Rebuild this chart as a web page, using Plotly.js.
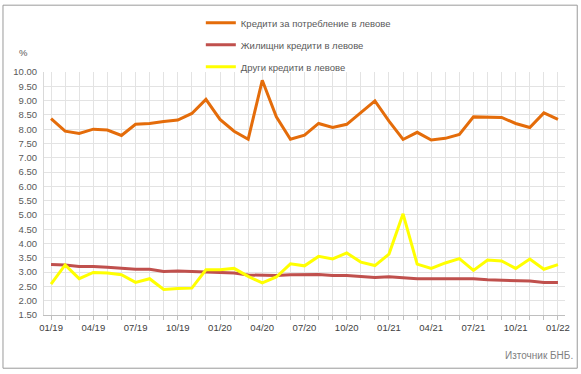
<!DOCTYPE html>
<html>
<head>
<meta charset="utf-8">
<script src="https://cdn.plot.ly/plotly-3.0.1.min.js"></script>
<style>
html,body{margin:0;padding:0;background:#fff;}
#chart{width:581px;height:374px;}
</style>
</head>
<body>
<div id="chart"></div>
<script>
const months = ["01/19","02/19","03/19","04/19","05/19","06/19","07/19","08/19","09/19","10/19","11/19","12/19",
"01/20","02/20","03/20","04/20","05/20","06/20","07/20","08/20","09/20","10/20","11/20","12/20",
"01/21","02/21","03/21","04/21","05/21","06/21","07/21","08/21","09/21","10/21","11/21","12/21","01/22"];
const consumer = [8.37,7.93,7.85,8.00,7.97,7.78,8.17,8.20,8.27,8.32,8.55,9.04,
8.34,7.93,7.65,9.71,8.43,7.65,7.79,8.20,8.06,8.17,8.58,8.99,
8.28,7.64,7.89,7.62,7.68,7.82,8.43,8.41,8.41,8.20,8.06,8.57,8.34];
const housing = [3.27,3.25,3.20,3.20,3.17,3.13,3.10,3.10,3.02,3.04,3.02,3.00,
2.99,2.97,2.90,2.88,2.88,2.91,2.92,2.92,2.88,2.88,2.85,2.81,
2.84,2.81,2.77,2.77,2.77,2.77,2.77,2.73,2.71,2.71,2.69,2.64,2.64];
const other = [2.58,3.25,2.77,2.99,2.97,2.91,2.64,2.77,2.39,2.43,2.44,3.08,
3.08,3.13,2.85,2.62,2.83,3.29,3.22,3.55,3.46,3.67,3.35,3.23,
3.63,5.04,3.28,3.13,3.32,3.47,3.06,3.42,3.39,3.13,3.46,3.10,3.26];
const seriesNames = ["Кредити за потребление в левове","Жилищни кредити в левове","Други кредити в левове"];
const yTicks = [1.5,2,2.5,3,3.5,4,4.5,5,5.5,6,6.5,7,7.5,8,8.5,9,9.5,10];

const xIdx = months.map((m,i)=>i);
const tickText = months.map((m,i)=> i%3===0 ? m : "");
const font = "Liberation Sans, Arial, sans-serif";

const traces = [
  {x:xIdx, y:consumer, name:seriesNames[0], legendgroup:"a", mode:"lines", line:{color:"#E46C0A", width:3}},
  {x:xIdx, y:housing, name:seriesNames[1], legendgroup:"b", mode:"lines", line:{color:"#C0504D", width:3}},
  {x:xIdx, y:other, name:seriesNames[2], legendgroup:"c", mode:"lines", line:{color:"#FFFF00", width:3}}
];

const layout = {
  width:581, height:374,
  margin:{l:44, r:16, t:72, b:58.5, autoexpand:false},
  paper_bgcolor:"#fff", plot_bgcolor:"#fff",
  font:{family:font, size:9, color:"#595959"},
  showlegend:true,
  legend:{x:0.301, y:1.262, xanchor:"left", yanchor:"top",
    tracegroupgap:3, font:{size:9.5, color:"#595959"}, bgcolor:"rgba(0,0,0,0)"},
  xaxis:{range:[-0.5,36.5], tickvals:xIdx, ticktext:tickText, showgrid:true, gridcolor:"#e3e3e3", gridwidth:1,
    zeroline:false, showline:true, linecolor:"#bfbfbf", linewidth:1, ticks:"outside", ticklen:4, tickcolor:"#bfbfbf",
    tickangle:0, tickfont:{size:9.5, color:"#404040"}, automargin:false, fixedrange:true},
  yaxis:{range:[1.5,10], tickvals:yTicks, tickformat:".2f", showgrid:true, gridcolor:"#e3e3e3", gridwidth:1,
    zeroline:false, showline:true, linecolor:"#d9d9d9", ticks:"", ticklabelstandoff:4,
    tickfont:{size:9.5, color:"#595959"}, automargin:false, fixedrange:true},
  annotations:[
    {xref:"paper", yref:"paper", x:-0.04, y:1.05, text:"%", showarrow:false, xanchor:"center", yanchor:"bottom",
      font:{size:9.5, color:"#595959"}},
    {xref:"paper", yref:"paper", x:1.02, y:-0.135, text:"Източник БНБ.", showarrow:false, xanchor:"right", yanchor:"top",
      font:{size:10, color:"#7f7f7f"}}
  ],
  shapes:[
    {type:"rect", xref:"paper", yref:"paper", x0:-0.0787, x1:1.0235, y0:-0.219, y1:1.275, line:{color:"#9a9a9a", width:1}}
  ]
};

Plotly.newPlot("chart", traces, layout, {displayModeBar:false, staticPlot:true});
</script>
</body>
</html>
